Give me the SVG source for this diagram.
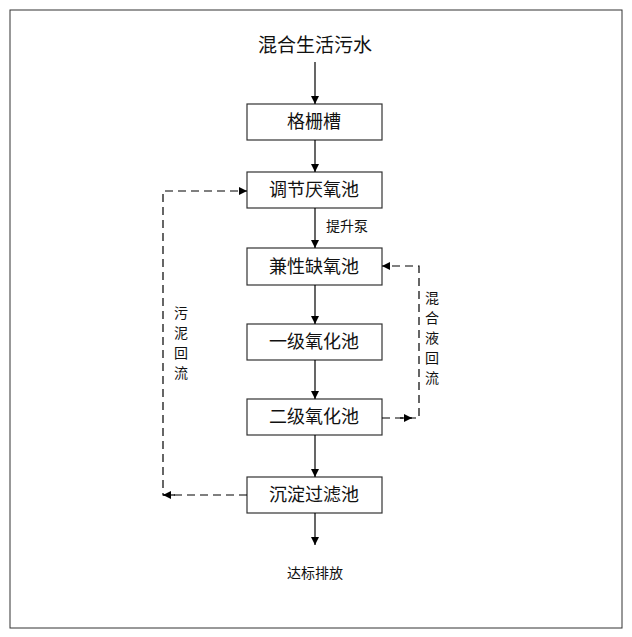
<svg xmlns="http://www.w3.org/2000/svg" width="632" height="637" viewBox="0 0 632 637">
<defs>
<marker id="a" viewBox="0 0 10 10" refX="10" refY="5" markerWidth="10" markerHeight="8" markerUnits="userSpaceOnUse" orient="auto"><path d="M0,0L10,5L0,10z" fill="#000"/></marker>
<style>
.b{fill:#fff;stroke:#333;stroke-width:1.2}
.t{font-family:"Liberation Sans","Noto Sans CJK SC",sans-serif;font-size:18px;fill:#111;text-anchor:middle}
.s{font-family:"Liberation Sans","Noto Sans CJK SC",sans-serif;font-size:14px;fill:#111}
.l{stroke:#000;stroke-width:1.2;fill:none}
.d{stroke:#000;stroke-width:1.2;fill:none;stroke-dasharray:8,5}
</style>
</defs>
<rect width="632" height="637" fill="#fff"/>
<rect x="10" y="10" width="612" height="618" fill="none" stroke="#333"/>
<text class="t" x="315" y="52" style="font-size:19px">混合生活污水</text>
<g id="n1"><rect class="b" x="247" y="104" width="135" height="36"/><text class="t" x="314" y="128">格栅槽</text></g>
<g id="n2"><rect class="b" x="247" y="172" width="135" height="36"/><text class="t" x="314" y="196">调节厌氧池</text></g>
<g id="n3"><rect class="b" x="247" y="248" width="135" height="37"/><text class="t" x="314" y="273">兼性缺氧池</text></g>
<g id="n4"><rect class="b" x="247" y="324" width="135" height="36"/><text class="t" x="314" y="348">一级氧化池</text></g>
<g id="n5"><rect class="b" x="247" y="399" width="135" height="36"/><text class="t" x="314" y="423">二级氧化池</text></g>
<g id="n6"><rect class="b" x="247" y="477" width="135" height="36"/><text class="t" x="314" y="501">沉淀过滤池</text></g>
<text class="s" x="315" y="578" text-anchor="middle">达标排放</text>
<text class="s" x="326" y="231">提升泵</text>
<g class="s"><text x="174" y="318">污</text><text x="174" y="338">泥</text><text x="174" y="358">回</text><text x="174" y="378">流</text>
<text x="425" y="303">混</text><text x="425" y="323">合</text><text x="425" y="343">液</text><text x="425" y="363">回</text><text x="425" y="383">流</text></g>
<g id="connectors">
<line class="l" x1="315" y1="62" x2="315" y2="104" marker-end="url(#a)"/>
<line class="l" x1="315" y1="140" x2="315" y2="172" marker-end="url(#a)"/>
<line class="l" x1="315" y1="208" x2="315" y2="248" marker-end="url(#a)"/>
<line class="l" x1="315" y1="285" x2="315" y2="324" marker-end="url(#a)"/>
<line class="l" x1="315" y1="360" x2="315" y2="399" marker-end="url(#a)"/>
<line class="l" x1="315" y1="435" x2="315" y2="477" marker-end="url(#a)"/>
<line class="l" x1="315" y1="513" x2="315" y2="545" marker-end="url(#a)"/>
<path class="d" d="M247,495H163V191H247" marker-end="url(#a)"/>
<line class="l" x1="175" y1="495" x2="163" y2="495" marker-end="url(#a)"/>
<path class="d" d="M382,418H419V266H382" marker-end="url(#a)"/>
<line class="l" x1="400" y1="418" x2="412" y2="418" marker-end="url(#a)"/>
</g>
</svg>
